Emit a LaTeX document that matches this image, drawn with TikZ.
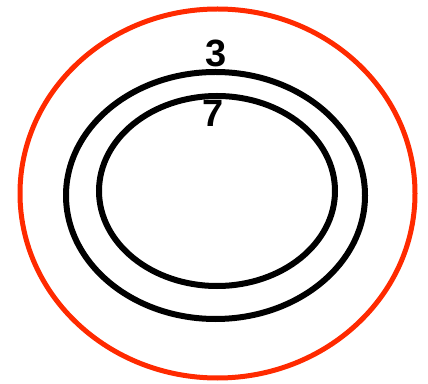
\documentclass[tikz,border=0pt]{standalone}
\usepackage{fontspec}
\setmainfont{Liberation Sans}
\definecolor{ringred}{RGB}{255,42,0}
\begin{document}
\begin{tikzpicture}[x=1pt,y=1pt]
\useasboundingbox (0,0) rectangle (428,383);
\draw[ringred, line width=5pt] (217.5,189.5) ellipse (197.5 and 184.5);
\draw[line width=6pt] (215.5,187.5) ellipse (149.5 and 123.5);
\draw[line width=6pt] (217,192) ellipse (118 and 95);
\node[inner sep=0pt, font=\fontsize{38}{40}\selectfont\bfseries] (three) at (216,329.5) {3};
\node[inner sep=0pt, font=\fontsize{38}{40}\selectfont\bfseries] (seven) at (213.5,269.5) {7};
\end{tikzpicture}
\end{document}
